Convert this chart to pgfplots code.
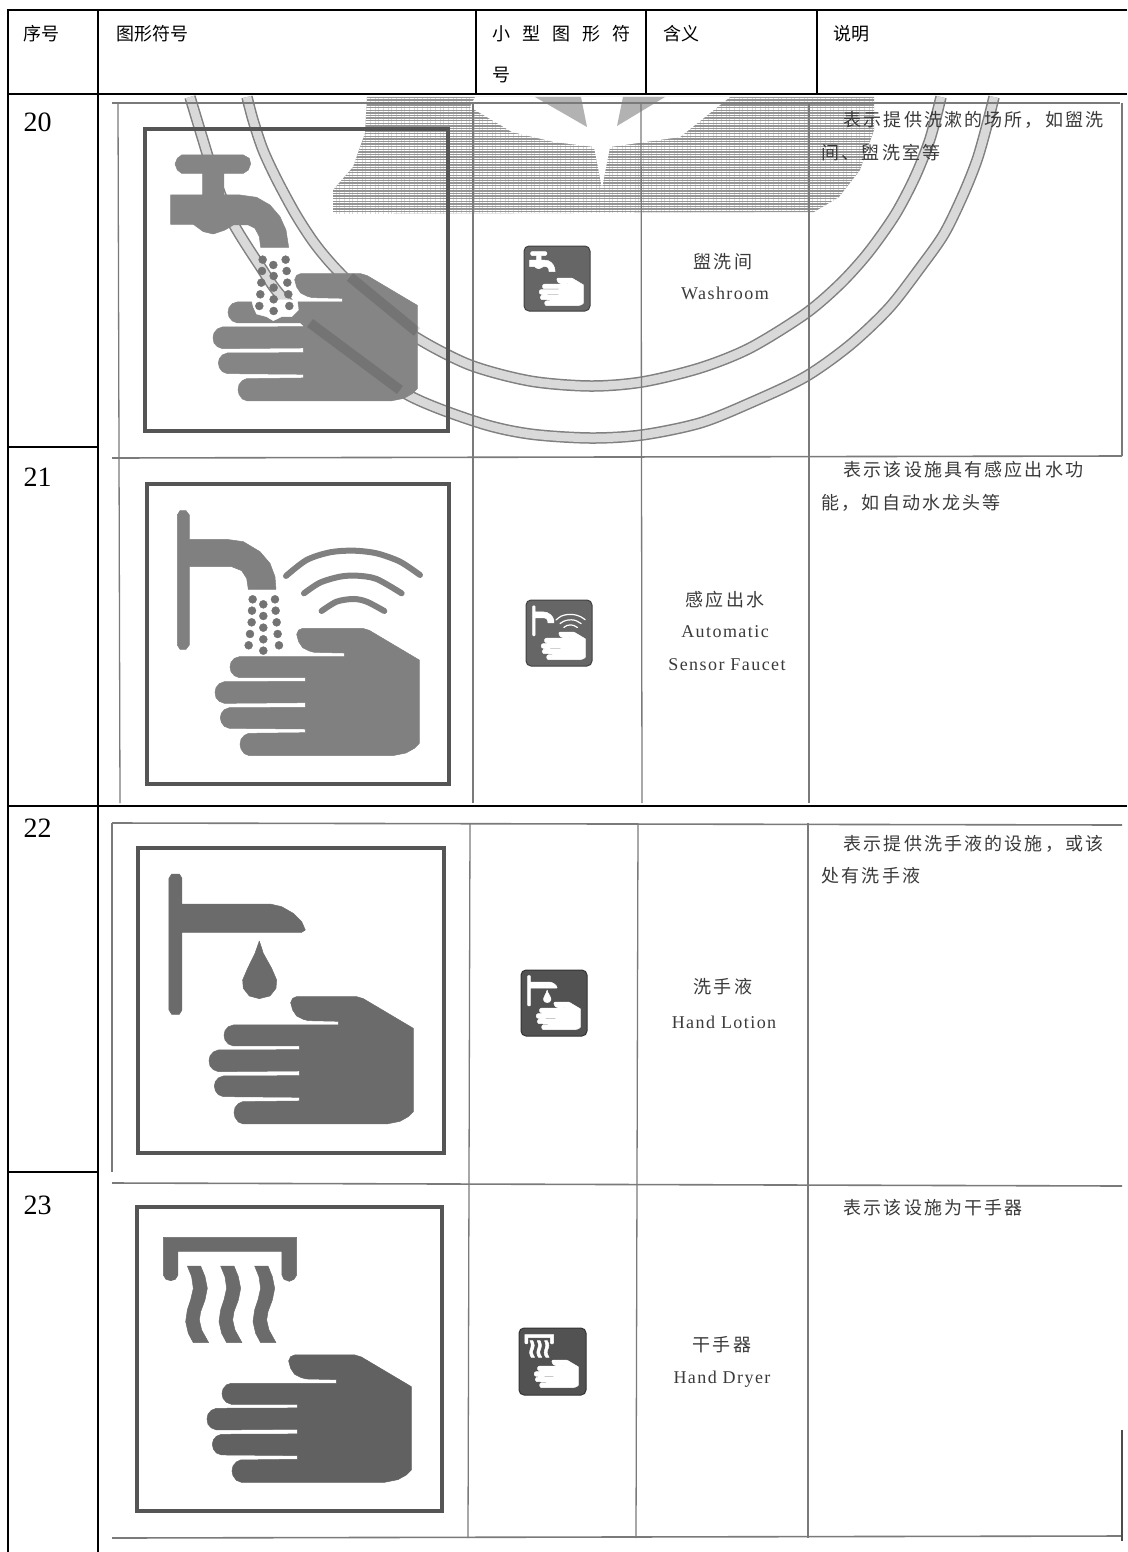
\documentclass[border=0pt]{standalone}
\usepackage{fontspec}
\usepackage{pgfplots}
\usepackage{pgfplotstable}
\pgfplotsset{compat=1.18}
\usetikzlibrary{patterns.meta}
\setmainfont{Liberation Serif}
\newfontfamily\cjk{Noto Sans CJK SC}
\newfontfamily\cjks[LetterSpace=12]{Noto Sans CJK SC}
\newfontfamily\lats[LetterSpace=8]{Liberation Serif}
\definecolor{rule}{HTML}{7A7A7A}
\definecolor{frame}{HTML}{555555}
\definecolor{scan}{HTML}{3A3A3A}
\pgfplotstableread{
x y
572 578
578 565
590 560
770 560
790 566
940 655
940 905
925 920
900 934
860 942
430 942
415 936
405 922
402 908
405 893
415 881
428 875
598 873
598 862
370 860
355 854
346 842
343 828
346 815
355 804
370 798
598 797
598 783
355 785
340 779
330 768
327 752
330 738
340 726
355 720
598 719
598 708
400 708
385 702
375 690
372 676
375 662
385 650
400 645
715 645
715 634
625 632
610 628
590 618
578 600
}\handtbl
\pgfplotstableread{
x y
245 195
430 195
448 205
452 222
445 240
430 250
372 250
372 315
420 315
470 322
510 345
540 380
558 420
566 472
482 472
478 440
465 415
445 405
400 405
375 420
340 432
310 425
280 403
212 403
212 315
308 315
308 250
245 250
232 240
225 222
232 205
}\tapA
\pgfplotstableread{
x y
232 165
240 152
258 152
268 165
268 238
380 238
430 245
480 275
510 310
525 350
528 388
445 388
440 355
425 332
395 320
268 320
268 555
258 568
240 568
232 555
}\tapB
\pgfplotstableread{
x y
207 205
215 192
238 192
246 205
246 282
510 282
545 290
580 310
605 335
616 360
605 367
246 367
246 600
238 613
215 613
207 600
}\tapC
\pgfplotstableread{
x y
478 393
490 430
515 475
530 510
528 535
510 558
478 566
448 558
430 535
428 510
443 475
465 430
}\droptbl
\pgfplotstableread{
x y
190 172
590 172
590 285
582 298
568 304
552 298
546 285
546 214
234 214
234 285
226 298
212 302
198 298
190 285
}\dryer
\pgfplotstableread{
x y
262 258
302 258
315 290
322 325
315 360
302 395
298 420
305 450
326 488
280 488
265 460
257 425
262 390
272 360
280 325
275 290
}\wavetbl
\pgfplotstableread{
x y
558 348
620 300
690 277
760 272
830 280
900 305
960 345
}\arcA
\pgfplotstableread{
x y
612 400
660 368
720 350
770 347
830 357
905 400
}\arcB
\pgfplotstableread{
x y
665 453
710 425
760 417
800 425
853 453
}\arcC
\pgfplotstableread{
x y
488 509
557 509
520 525
486 543
560 543
521 558
484 578
562 578
521 593
481 613
565 613
521 628
478 648
568 648
521 663
}\dotsA
\pgfplotstableread{
x y
458 418
525 418
490 433
456 452
527 452
490 468
455 487
530 487
490 503
450 522
533 522
490 538
446 556
537 556
490 572
}\dotsB
\pgfplotstableread{
x y
460 650
470 672
500 680
520 692
545 680
575 680
595 660
592 630
455 630
}\blob
\pgfplotstableread{
x y
247 97
253 120
263 150
277 180
296 215
315 244
337 270
375 307
417 338
470 365
530 381
590 386
642 382
700 368
750 348
805 314
840 284
868 253
895 215
915 177
930 139
941 97
}\ringA
\pgfplotstableread{
x y
190 97
203 140
217 185
233 223
260 266
283 298
340 350
410 396
480 423
530 434
590 438
642 435
700 423
750 403
805 377
850 345
889 308
920 268
944 234
963 195
977 160
987 125
994 97
}\ringB
\newcommand{\Sym}[5]{\addplot[fill=#2,draw=#2,line width=0.5pt,line join=round] table[x expr=\thisrow{x}*#3+#4,y expr=\thisrow{y}*#3+#5]{#1} --cycle;}
\newcommand{\Arc}[6]{\addplot[draw=#2,line width=#6pt,line cap=round,smooth] table[x expr=\thisrow{x}*#3+#4,y expr=\thisrow{y}*#3+#5]{#1};}
\newcommand{\Dots}[6]{\addplot[only marks,mark=*,mark size=#6pt,mark options={fill=#2,draw=#2}] table[x expr=\thisrow{x}*#3+#4,y expr=\thisrow{y}*#3+#5]{#1};}
\newcommand{\Frm}[4]{\addplot[draw=frame,line width=4pt,line join=miter] coordinates {(#1,#2) (#3,#2) (#3,#4) (#1,#4)} --cycle;}
\begin{document}
\begin{tikzpicture}
\begin{axis}[scale only axis,width=1127pt,height=1552pt,xmin=0,xmax=1127,ymin=0,ymax=1552,y dir=reverse,hide axis,
  every node/.append style={inner sep=0pt,outer sep=0pt}]
\path[use as bounding box] (axis cs:0,0) rectangle (axis cs:1127,1552);
% seal: hatched field
\addplot[fill=black!42,draw=none] coordinates {(367,97) (365,133) (353,167) (333,190) (333,214) (814,212) (839,197) (860,170) (874,130) (874,97)} --cycle;
\addplot[pattern={Lines[angle=0,distance=2.6pt,line width=1.1pt]},pattern color=white,draw=none] coordinates {(367,97) (365,133) (353,167) (333,190) (333,214) (814,212) (839,197) (860,170) (874,130) (874,97)} --cycle;
\addplot[fill=white,draw=none] coordinates {(475,97) (470,107) (512,132) (554,142) (594,147) (602,188) (610,147) (680,137) (730,97)} --cycle;
\addplot[fill=black!30,draw=none] coordinates {(535,97) (587,127) (581,97)} --cycle;
\addplot[fill=black!30,draw=none] coordinates {(617,126) (665,97) (623,97)} --cycle;
% seal: rings
\addplot[smooth,draw=black!50,line width=11.5pt] table {\ringA};
\addplot[smooth,draw=black!15,line width=8.5pt] table {\ringA};
\addplot[smooth,draw=black!50,line width=11.5pt] table {\ringB};
\addplot[smooth,draw=black!15,line width=8.5pt] table {\ringB};
% scanned rules, rows 20 and 21
\addplot[draw=rule,line width=1.6pt] coordinates {(112,103) (1120,103)};
\addplot[draw=rule,line width=1.6pt] coordinates {(112,458) (1122,456)};
\addplot[draw=rule,line width=1.3pt] coordinates {(118,103) (120,803)};
\addplot[draw=rule,line width=1.3pt] coordinates {(473,103) (473,803)};
\addplot[draw=rule,line width=1.3pt] coordinates {(641,103) (642,803)};
\addplot[draw=rule,line width=1.3pt] coordinates {(809,103) (809,803)};
\addplot[draw=rule,line width=1.3pt] coordinates {(1122,103) (1122,456)};
% rows 22 and 23
\addplot[draw=rule,line width=1.6pt] coordinates {(112,823) (1122,825)};
\addplot[draw=rule,line width=1.6pt] coordinates {(112,1183) (1122,1186)};
\addplot[draw=rule,line width=1.6pt] coordinates {(112,1538) (1122,1536)};
\addplot[draw=rule,line width=1.3pt] coordinates {(112,823) (112,1172)};
\addplot[draw=rule,line width=1.3pt] coordinates {(470,823) (468,1538)};
\addplot[draw=rule,line width=1.3pt] coordinates {(638,823) (636,1538)};
\addplot[draw=rule,line width=1.3pt] coordinates {(808,823) (808,1538)};
\addplot[draw=black!70,line width=1.6pt] coordinates {(1122,1430) (1122,1541)};
% frames
\Frm{145}{129}{448}{431}
\Frm{147}{484}{449}{784}
\Frm{138}{848}{444}{1153}
\Frm{137}{1207}{442}{1511}
% row 20 large
\Sym{\tapA}{black!48}{0.3333}{100}{90}
\Sym{\handtbl}{black!48}{0.3333}{104}{87}
\addplot[draw=black,draw opacity=0.12,line width=10pt] coordinates {(350,277) (417,332)};
\addplot[draw=black,draw opacity=0.12,line width=10pt] coordinates {(310,323) (400,390)};
\Sym{\blob}{white}{0.3333}{100}{90}
\Dots{\dotsA}{black!55}{0.3333}{100}{90}{4}
% row 21 large
\Sym{\tapB}{black!50}{0.3333}{100}{460}
\Sym{\handtbl}{black!50}{0.3333}{106}{441.7}
\Arc{\arcA}{black!50}{0.3333}{100}{460}{6}
\Arc{\arcB}{black!50}{0.3333}{100}{460}{6}
\Arc{\arcC}{black!50}{0.3333}{100}{460}{6}
\Dots{\dotsB}{black!55}{0.3333}{100}{460}{4}
% row 22 large
\Sym{\tapC}{black!58}{0.3333}{100}{810}
\Sym{\droptbl}{black!58}{0.3333}{100}{810}
\Sym{\handtbl}{black!58}{0.3333}{100}{810}
% row 23 large
\Sym{\dryer}{black!58}{0.3333}{100}{1180}
\Sym{\wavetbl}{black!58}{0.3333}{100}{1180}
\Sym{\wavetbl}{black!58}{0.3333}{133.33}{1180}
\Sym{\wavetbl}{black!58}{0.3333}{167.33}{1180}
\Sym{\handtbl}{black!62}{0.3333}{98}{1168.3}
% small icons
\addplot[fill=black!60,draw=black!75,line width=1pt,rounded corners=5pt] coordinates {(524,246) (590,246) (590,311) (524,311)} --cycle;
\Sym{\tapA}{white}{0.0721}{514.3}{237.5}
\Sym{\handtbl}{white}{0.0721}{515.7}{237.7}
\addplot[fill=black!60,draw=black!75,line width=1pt,rounded corners=5pt] coordinates {(526,600) (592,600) (592,666) (526,666)} --cycle;
\Sym{\tapB}{white}{0.0721}{515.9}{594.8}
\Sym{\handtbl}{white}{0.0721}{517.7}{591.7}
\Arc{\arcA}{white}{0.0721}{515.9}{594.8}{1.2}
\Arc{\arcB}{white}{0.0721}{515.9}{594.8}{1.2}
\Arc{\arcC}{white}{0.0721}{515.9}{594.8}{1.2}
\addplot[fill=black!68,draw=black!80,line width=1pt,rounded corners=5pt] coordinates {(521,970) (587,970) (587,1036) (521,1036)} --cycle;
\Sym{\tapC}{white}{0.0721}{512.7}{961.7}
\Sym{\droptbl}{white}{0.0721}{512.7}{961.7}
\Sym{\handtbl}{white}{0.0721}{512.7}{961.7}
\addplot[fill=black!68,draw=black!80,line width=1pt,rounded corners=5pt] coordinates {(519,1328) (586,1328) (586,1395) (519,1395)} --cycle;
\Sym{\dryer}{white}{0.0721}{511.07}{1322.09}
\Sym{\wavetbl}{white}{0.0721}{511.07}{1322.09}
\Sym{\wavetbl}{white}{0.0721}{518.28}{1322.09}
\Sym{\wavetbl}{white}{0.0721}{525.63}{1322.09}
\Sym{\handtbl}{white}{0.0721}{510.7}{1319.7}
% black table rules
\addplot[draw=black,line width=2pt] coordinates {(7,10) (1127,10)};
\addplot[draw=black,line width=2pt] coordinates {(7,94) (1127,94)};
\addplot[draw=black,line width=2pt] coordinates {(7,806) (1127,806)};
\addplot[draw=black,line width=2pt] coordinates {(8,10) (8,1552)};
\addplot[draw=black,line width=2pt] coordinates {(98,10) (98,1552)};
\addplot[draw=black,line width=2pt] coordinates {(476,10) (476,94)};
\addplot[draw=black,line width=2pt] coordinates {(646,10) (646,94)};
\addplot[draw=black,line width=2pt] coordinates {(817,10) (817,94)};
\addplot[draw=black,line width=2pt] coordinates {(8,447) (98,447)};
\addplot[draw=black,line width=2pt] coordinates {(8,1172) (98,1172)};
% header
\tikzset{H/.style={anchor=west,font=\fontsize{18}{22}\selectfont\cjk,color=black}}
\node[H] at (axis cs:20,34) {序号};
\node[H] at (axis cs:113,34) {图形符号};
\node[H] at (axis cs:489,34) {小\,\,\,\,型\,\,\,\,图\,\,\,\,形\,\,\,\,符};
\node[H] at (axis cs:489,75) {号};
\node[H] at (axis cs:660,34) {含义};
\node[H] at (axis cs:830,34) {说明};
% row numbers
\tikzset{N/.style={anchor=west,font=\fontsize{28}{32}\selectfont,color=black}}
\node[N] at (axis cs:20,122) {20};
\node[N] at (axis cs:20,477) {21};
\node[N] at (axis cs:20,828) {22};
\node[N] at (axis cs:20,1205) {23};
% scanned text
\tikzset{D/.style={anchor=west,font=\fontsize{18}{22}\selectfont\cjks,color=scan},
  M/.style={anchor=center,font=\fontsize{18}{22}\selectfont\cjks,color=scan},
  E/.style={anchor=center,font=\fontsize{18}{22}\selectfont\lats,color=scan}}
\node[D] at (axis cs:840,120) {表示提供洗漱的场所，如盥洗};
\node[D] at (axis cs:818,153) {间、盥洗室等};
\node[M] at (axis cs:723,262) {盥洗间};
\node[E] at (axis cs:725,293) {Washroom};
\node[D] at (axis cs:840,470) {表示该设施具有感应出水功};
\node[D] at (axis cs:818,503) {能，如自动水龙头等};
\node[M] at (axis cs:725,600) {感应出水};
\node[E] at (axis cs:725,632) {Automatic};
\node[E] at (axis cs:727,665) {Sensor Faucet};
\node[D] at (axis cs:840,844) {表示提供洗手液的设施，或该};
\node[D] at (axis cs:818,876) {处有洗手液};
\node[M] at (axis cs:723,987) {洗手液};
\node[E] at (axis cs:724,1022) {Hand Lotion};
\node[D] at (axis cs:840,1208) {表示该设施为干手器};
\node[M] at (axis cs:722,1345) {干手器};
\node[E] at (axis cs:722,1379) {Hand Dryer};
\end{axis}
\end{tikzpicture}
\end{document}
